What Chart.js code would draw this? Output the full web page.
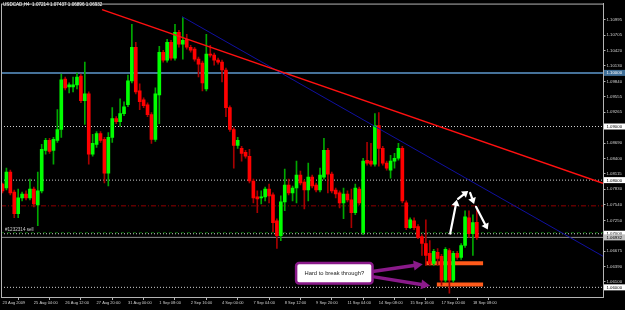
<!DOCTYPE html>
<html>
<head>
<meta charset="utf-8">
<script src="https://cdn.jsdelivr.net/npm/chart.js@4.4.0/dist/chart.umd.min.js"></script>
<style>
  html, body { margin: 0; padding: 0; background: #000; }
  canvas { display: block; }
</style>
</head>
<body>
<canvas id="chart" width="625" height="310"></canvas>
<script>
(function () {
    "use strict";

    // USDCAD H4 bars, oldest first (23 Aug 2009 20:00 .. 18 Sep 2009 12:00)
    var opens = [
        1.07927, 1.07853, 1.08149, 1.07779, 1.07372, 1.07668, 1.07742, 1.07668, 1.07835, 1.07539,
        1.07798, 1.08556, 1.08741, 1.08556, 1.08741, 1.08944, 1.09887, 1.09739, 1.09739, 1.09776,
        1.09943, 1.09480, 1.09610, 1.08482, 1.08667, 1.08870, 1.08759, 1.08131, 1.08796, 1.09148,
        1.09092, 1.09240, 1.09406, 1.09850, 1.10479, 1.09665, 1.09499, 1.09406, 1.09222, 1.08759,
        1.09591, 1.10386, 1.10239, 1.10571, 1.10276, 1.10756, 1.10534, 1.10627, 1.10479, 1.10442,
        1.10257, 1.10183, 1.09702, 1.10349, 1.10331, 1.10239, 1.10202, 1.10054, 1.09351, 1.08944,
        1.08648, 1.08593, 1.08519, 1.08445, 1.07983, 1.07687, 1.07668, 1.07687, 1.07835, 1.07724,
        1.07243, 1.06966, 1.07594, 1.07909, 1.07761, 1.07853, 1.08094, 1.07964, 1.07816, 1.08057,
        1.07909, 1.07816, 1.08057, 1.08556, 1.08112, 1.07816, 1.07761, 1.07576, 1.07742, 1.07631,
        1.07391, 1.07835, 1.07021, 1.08371, 1.08353, 1.08297, 1.09018, 1.08593, 1.08316, 1.08186,
        1.08353, 1.08408, 1.08593, 1.07576, 1.07113, 1.07243, 1.07132, 1.06947, 1.06818, 1.06633,
        1.06448, 1.06651, 1.06577, 1.06134, 1.06688, 1.06134, 1.06633, 1.06559, 1.06781, 1.07298,
        1.07002, 1.07214
    ];
    var highs = [
        1.07946, 1.08223, 1.08186, 1.07816, 1.07835, 1.07779, 1.07798, 1.08020, 1.07872, 1.08149,
        1.08667, 1.08778, 1.08778, 1.08796, 1.09314, 1.09980, 1.09924, 1.09813, 1.09924, 1.09998,
        1.09980, 1.10202, 1.09647, 1.08852, 1.08907, 1.08907, 1.08796, 1.08889, 1.09351, 1.09185,
        1.09517, 1.09462, 1.09961, 1.10904, 1.10571, 1.09795, 1.09536, 1.09443, 1.09259, 1.09721,
        1.10497, 1.10423, 1.10627, 1.10608, 1.10904, 1.10793, 1.11034, 1.10719, 1.10516, 1.10479,
        1.10294, 1.10220, 1.10719, 1.10516, 1.10368, 1.10276, 1.10239, 1.10091, 1.09388, 1.08981,
        1.08796, 1.08630, 1.08556, 1.08574, 1.08020, 1.07798, 1.07798, 1.07872, 1.07927, 1.07761,
        1.07280, 1.07705, 1.08205, 1.08020, 1.07890, 1.08353, 1.08168, 1.08001, 1.08316, 1.08094,
        1.07946, 1.08223, 1.08778, 1.08593, 1.08149, 1.07853, 1.07798, 1.07853, 1.07798, 1.07835,
        1.07927, 1.07872, 1.08408, 1.08704, 1.08685, 1.09240, 1.09259, 1.08630, 1.08353, 1.08463,
        1.08500, 1.08685, 1.08630, 1.07613, 1.07298, 1.07298, 1.07169, 1.06984, 1.07261, 1.06873,
        1.06707, 1.06725, 1.06614, 1.06743, 1.06725, 1.06670, 1.06670, 1.06818, 1.07428, 1.07428,
        1.07354, 1.07437
    ];
    var lows = [
        1.07761, 1.07816, 1.07724, 1.07298, 1.07298, 1.07613, 1.07631, 1.07631, 1.07502, 1.07150,
        1.07761, 1.08482, 1.08500, 1.08297, 1.08704, 1.08796, 1.09684, 1.09628, 1.09647, 1.09702,
        1.09443, 1.09037, 1.08297, 1.08445, 1.08611, 1.08704, 1.07946, 1.07890, 1.08704, 1.09055,
        1.09000, 1.09203, 1.09369, 1.09813, 1.09610, 1.09314, 1.09351, 1.09185, 1.08685, 1.08722,
        1.09055, 1.10202, 1.10202, 1.10239, 1.10239, 1.10479, 1.10257, 1.10442, 1.10386, 1.10220,
        1.09924, 1.09665, 1.09665, 1.10294, 1.10146, 1.10165, 1.09832, 1.09185, 1.08907, 1.08223,
        1.08593, 1.08353, 1.08408, 1.07946, 1.07576, 1.07391, 1.07557, 1.07613, 1.07576, 1.07039,
        1.06725, 1.06873, 1.07428, 1.07724, 1.07613, 1.07576, 1.07909, 1.07465, 1.07613, 1.07853,
        1.07779, 1.07779, 1.08020, 1.07761, 1.07761, 1.07668, 1.07483, 1.07280, 1.07594, 1.07113,
        1.07354, 1.07539, 1.06984, 1.08279, 1.08260, 1.08260, 1.08260, 1.08279, 1.08186, 1.08038,
        1.08223, 1.08371, 1.07576, 1.07076, 1.07095, 1.07076, 1.06910, 1.06596, 1.06411, 1.06411,
        1.06411, 1.06411, 1.06041, 1.06097, 1.05893, 1.06097, 1.06522, 1.06522, 1.06743, 1.06929,
        1.06596, 1.06896
    ];
    var closes = [
        1.07798, 1.08149, 1.07761, 1.07372, 1.07668, 1.07742, 1.07668, 1.07835, 1.07557, 1.07798,
        1.08574, 1.08741, 1.08537, 1.08759, 1.08944, 1.09869, 1.09721, 1.09776, 1.09776, 1.09924,
        1.09480, 1.09610, 1.08482, 1.08685, 1.08870, 1.08741, 1.08131, 1.08796, 1.09148, 1.09092,
        1.09240, 1.09369, 1.09850, 1.10479, 1.09647, 1.09462, 1.09388, 1.09222, 1.08759, 1.09610,
        1.10386, 1.10239, 1.10571, 1.10276, 1.10756, 1.10534, 1.10608, 1.10479, 1.10423, 1.10257,
        1.10165, 1.09813, 1.10349, 1.10331, 1.10239, 1.10202, 1.10054, 1.09351, 1.08944, 1.08648,
        1.08741, 1.08500, 1.08445, 1.07983, 1.07668, 1.07650, 1.07687, 1.07835, 1.07705, 1.07206,
        1.06966, 1.07594, 1.07909, 1.07761, 1.07853, 1.08094, 1.07946, 1.07816, 1.08057, 1.07890,
        1.07816, 1.08094, 1.08556, 1.08112, 1.07798, 1.07742, 1.07576, 1.07742, 1.07631, 1.07391,
        1.07853, 1.07576, 1.08353, 1.08316, 1.08297, 1.09018, 1.08593, 1.08316, 1.08223, 1.08353,
        1.08408, 1.08593, 1.07613, 1.07113, 1.07261, 1.07113, 1.06929, 1.06818, 1.06596, 1.06448,
        1.06670, 1.06540, 1.06134, 1.06707, 1.06134, 1.06633, 1.06559, 1.06781, 1.07317, 1.07002,
        1.07206, 1.06932
    ];

    // time axis: a label every 8 bars
    var xTickIdx = [0, 8, 16, 24, 32, 40, 48, 56, 64, 72, 80, 88, 96, 104, 112, 120];
    var xTickLabels = ['23 Aug 2009', '25 Aug 04:00', '26 Aug 12:00', '27 Aug 20:00', '31 Aug 00:00',
        '1 Sep 08:00', '2 Sep 16:00', '4 Sep 00:00', '7 Sep 04:00', '8 Sep 12:00', '9 Sep 20:00',
        '11 Sep 04:00', '14 Sep 08:00', '15 Sep 16:00', '17 Sep 00:00', '18 Sep 08:00'];
    var yTicks = [1.10995, 1.10705, 1.10420, 1.10130, 1.09840, 1.09555, 1.09265, 1.08975, 1.08690,
        1.08400, 1.08115, 1.07830, 1.07540, 1.07250, 1.06960, 1.06675, 1.06390, 1.06100, 1.05810];

    // drawn objects (bar index, price)
    var roundLevels = [1.09, 1.08, 1.07, 1.06];
    var blueLevel = 1.10;
    var dashDotLevel = 1.0752;
    var sellLevel = 1.0702;
    var bidPrice = 1.06932;
    var redTrend = [[25.4, 1.1118], [153.2, 1.0794]];
    var blueTrend = [[45.8, 1.1105], [153.2, 1.0658]];
    var zoneUpper = [[107.8, 1.06448], [122.6, 1.06448]];
    var zoneLower = [[110.8, 1.06051], [122.6, 1.06051]];
    var noteBox = { x0: 74.9, x1: 94.4, top: 1.06454, bottom: 1.06073, text: 'Hard to break through?' };
    var purpleArrows = [
        [[94.8, 1.06300], [107.2, 1.06430]],
        [[94.8, 1.06195], [109.1, 1.06028]]
    ];
    var whiteArrows = [
        [[114.2, 1.07003], [115.9, 1.07632]],
        [[116.2, 1.07650], [118.8, 1.07798]],
        [[119.3, 1.07761], [120.3, 1.07557]],
        [[120.8, 1.07502], [123.8, 1.07077]]
    ];
    var priceTags = [
        { value: 1.10000, bg: '#3f6f98', fg: '#ffffff' },
        { value: 1.09000, bg: '#ffffff', fg: '#000000' },
        { value: 1.08000, bg: '#ffffff', fg: '#000000' },
        { value: 1.07000, bg: '#ffffff', fg: '#000000' },
        { value: bidPrice, bg: '#c0c0c0', fg: '#000000' },
        { value: 1.06000, bg: '#ffffff', fg: '#000000' }
    ];

    var X_MIN = -0.383, X_MAX = 153.19;
    var FONT = 'Liberation Sans, Arial, sans-serif';

    function hLine(price, color, dash, width, order) {
        return {
            type: 'line',
            data: [{ x: X_MIN, y: price }, { x: X_MAX, y: price }],
            borderColor: color,
            borderWidth: width || 1,
            borderDash: dash || [],
            pointRadius: 0,
            order: order
        };
    }
    function segLine(pts, color, width, order) {
        return {
            type: 'line',
            data: pts.map(function (p) { return { x: p[0], y: p[1] }; }),
            borderColor: color,
            borderWidth: width,
            borderCapStyle: 'butt',
            pointRadius: 0,
            order: order
        };
    }

    var up = closes.map(function (c, i) { return c >= opens[i]; });

    var datasets = [
        {
            type: 'bar',
            data: opens.map(function (o, i) { return { x: i, y: [o, closes[i]] }; }),
            backgroundColor: up.map(function (u) { return u ? '#00ff00' : '#ff0000'; }),
            barThickness: 3,
            minBarLength: 1,
            grouped: false,
            order: 1
        },
        {
            type: 'bar',
            data: lows.map(function (l, i) { return { x: i, y: [l, highs[i]] }; }),
            backgroundColor: up.map(function (u) { return u ? '#00a800' : '#a80000'; }),
            barThickness: 1,
            grouped: false,
            order: 2
        },
        segLine(redTrend, '#ff1010', 1.5, 0),
        segLine(blueTrend, '#1010a0', 1, 0),
        segLine(zoneUpper, '#ff5a1a', 4, 3),
        segLine(zoneLower, '#ff5a1a', 4, 3),
        hLine(blueLevel, '#46729a', null, 2, 4),
        hLine(dashDotLevel, '#900000', [5, 2, 1, 2], 1, 4),
        hLine(sellLevel, '#0a640a', [3, 3], 1, 4),
        hLine(bidPrice, '#8c8c8c', null, 1, 4)
    ];
    roundLevels.forEach(function (lv) {
        datasets.push(hLine(lv, '#d0d0d0', [1, 2], 1, 4));
    });

    function arrow(ctx, x0, y0, x1, y1, color, width, headLen, headW) {
        var a = Math.atan2(y1 - y0, x1 - x0);
        var bx = x1 - Math.cos(a) * headLen, by = y1 - Math.sin(a) * headLen;
        ctx.strokeStyle = color;
        ctx.fillStyle = color;
        ctx.lineWidth = width;
        ctx.lineCap = 'round';
        ctx.beginPath();
        ctx.moveTo(x0, y0);
        ctx.lineTo(bx, by);
        ctx.stroke();
        ctx.beginPath();
        ctx.moveTo(x1, y1);
        ctx.lineTo(bx + Math.sin(a) * headW, by - Math.cos(a) * headW);
        ctx.lineTo(bx - Math.sin(a) * headW, by + Math.cos(a) * headW);
        ctx.closePath();
        ctx.fill();
    }

    var overlay = {
        id: 'mt4overlay',
        afterDraw: function (chart) {
            var ctx = chart.ctx, xs = chart.scales.x, ys = chart.scales.y, area = chart.chartArea;
            function px(v) { return xs.getPixelForValue(v); }
            function py(v) { return ys.getPixelForValue(v); }
            ctx.save();

            // frame
            ctx.strokeStyle = '#b4b4b4';
            ctx.lineWidth = 1;
            ctx.strokeRect(area.left + 0.5, area.top + 0.5, area.right - area.left, area.bottom - area.top);

            // title and order label
            ctx.font = '4.6px ' + FONT;
            ctx.fillStyle = '#ffffff';
            ctx.textBaseline = 'middle';
            ctx.textAlign = 'left';
            ctx.fillText('USDCAD,H4  1.07214 1.07437 1.06896 1.06932', 3, 4.5);
            ctx.fillStyle = '#d0d0d0';
            ctx.fillText('#1232314 sell', 5, py(sellLevel) - 2.5);

            // price tags on the axis
            ctx.font = '4.3px ' + FONT;
            priceTags.forEach(function (t) {
                var y = py(t.value);
                ctx.fillStyle = t.bg;
                ctx.fillRect(area.right + 1, y - 3, 21, 6);
                ctx.fillStyle = t.fg;
                ctx.fillText(t.value.toFixed(5), area.right + 3.5, y + 0.3);
            });

            // note box
            var bx0 = px(noteBox.x0), bx1 = px(noteBox.x1), by0 = py(noteBox.top), by1 = py(noteBox.bottom);
            ctx.beginPath();
            ctx.roundRect(bx0, by0, bx1 - bx0, by1 - by0, 3);
            ctx.fillStyle = '#ffffff';
            ctx.fill();
            ctx.strokeStyle = '#8a1a8a';
            ctx.lineWidth = 2.5;
            ctx.stroke();
            ctx.fillStyle = '#1a1a1a';
            ctx.font = '5.8px ' + FONT;
            ctx.textAlign = 'center';
            ctx.fillText(noteBox.text, (bx0 + bx1) / 2, (by0 + by1) / 2 + 0.3);

            purpleArrows.forEach(function (a) {
                arrow(ctx, px(a[0][0]), py(a[0][1]), px(a[1][0]), py(a[1][1]), '#8a1a8a', 3.5, 9, 5);
            });
            whiteArrows.forEach(function (a) {
                arrow(ctx, px(a[0][0]), py(a[0][1]), px(a[1][0]), py(a[1][1]), '#ffffff', 2.2, 6, 4);
            });
            ctx.restore();
        }
    };

    new Chart(document.getElementById('chart'), {
        type: 'bar',
        data: { datasets: datasets },
        options: {
            responsive: false,
            animation: false,
            devicePixelRatio: 1,
            layout: { padding: { left: 1, top: 1, right: 0, bottom: 0 } },
            plugins: { legend: { display: false }, tooltip: { enabled: false } },
            scales: {
                x: {
                    type: 'linear',
                    min: X_MIN,
                    max: X_MAX,
                    offset: false,
                    grid: { drawOnChartArea: false, tickLength: 3, color: '#b4b4b4' },
                    border: { color: '#b4b4b4' },
                    afterBuildTicks: function (s) { s.ticks = xTickIdx.map(function (v) { return { value: v }; }); },
                    afterFit: function (s) { s.height = 13; },
                    ticks: {
                        autoSkip: false,
                        maxRotation: 0,
                        align: 'start',
                        padding: 0,
                        color: '#d0d0d0',
                        font: { family: FONT, size: 4 },
                        callback: function (v, i) { return xTickLabels[i]; }
                    }
                },
                y: {
                    position: 'right',
                    min: 1.05820,
                    max: 1.11293,
                    grid: { drawOnChartArea: false, tickLength: 2.5, color: '#b4b4b4' },
                    border: { color: '#b4b4b4' },
                    afterBuildTicks: function (s) {
                        s.ticks = yTicks.filter(function (v) { return v > s.min && v < s.max; })
                            .map(function (v) { return { value: v }; });
                    },
                    afterFit: function (s) { s.width = 22; },
                    ticks: {
                        padding: 1,
                        color: '#d0d0d0',
                        font: { family: FONT, size: 4.3 },
                        callback: function (v) { return v.toFixed(5); }
                    }
                }
            }
        },
        plugins: [overlay]
    });
})();
</script>
</body>
</html>
